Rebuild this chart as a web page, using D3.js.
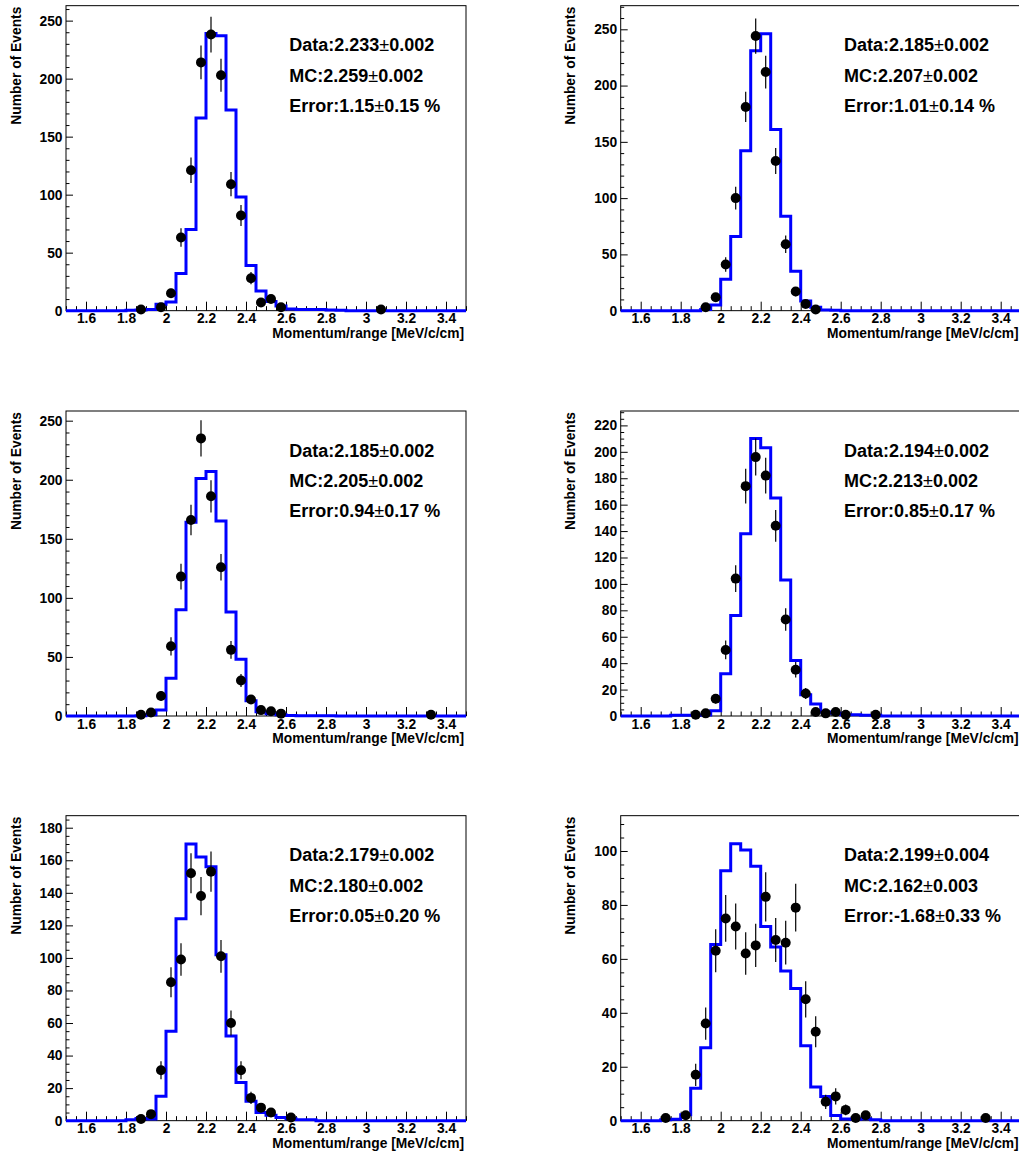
<!DOCTYPE html>
<html>
<head>
<meta charset="utf-8">
<script src="https://cdn.jsdelivr.net/npm/d3@7"></script>
<style>
  html, body { margin: 0; padding: 0; background: #fff; }
  svg { display: block; }
  text { font-family: "Liberation Sans", Arial, Helvetica, sans-serif; font-weight: bold; fill: #000; }
</style>
</head>
<body>
<svg id="chart" width="1019" height="1156"></svg>
<script>
// Momentum/range distributions: data (points with sqrt(N) errors) vs MC (blue step histogram)
// 40 bins of width 0.05 from 1.5 to 3.5 MeV/c/cm
const binStart = 1.5;
const binWidth = 0.05;
const xDomain = [1.5, 3.5];
const xTickValues = [1.6, 1.8, 2.0, 2.2, 2.4, 2.6, 2.8, 3.0, 3.2, 3.4];
const xTickLabels = ["1.6", "1.8", "2", "2.2", "2.4", "2.6", "2.8", "3", "3.2", "3.4"];
const xTitle = "Momentum/range [MeV/c/cm]";
const yTitle = "Number of Events";

const mc1 = [0,0,0,0,0,0,0.3,0.5,1,5.5, 7.5,32,70,166,239,237,173,98,39,17, 8,4,1.5,1,1,1,0.5,0.3,0,0, 0,0,0,0,0,0,0,0,0,0];
const data1 = [0,0,0,0,0,0,0,1,0,3, 15,63,121,214,238,203,109,82,28,7, 10,3,0,0,0,0,0,0,0,0, 0,1,0,0,0,0,0,0,0,0];

const mc2 = [0,0,0,0,0,0,0,0,1,5, 28,66,142,231,246,161,84,35,8.5,3, 0.5,0.3,0,0,0,0,0,0,0,0, 0,0,0,0,0,0,0,0,0,0];
const data2 = [0,0,0,0,0,0,0,0,3,12, 41,100,181,244,212,133,59,17,6,1, 0,0,0,0,0,0,0,0,0,0, 0,0,0,0,0,0,0,0,0,0];

const mc3 = [0,0,0,0,0,0,0,0.3,1,5, 32,90,164,201,207,165,88,48,13,3.5, 2,1,0.5,0.3,0.3,0.3,0.3,0,0,0, 0,0,0,0,0,0,0,0,0,0];
const data3 = [0,0,0,0,0,0,0,1,3,17, 59,118,166,235,186,126,56,30,14,5, 4,2,0,0,0,0,0,0,0,0, 0,0,0,0,0,0,1,0,0,0];

const mc4 = [0,0,0,0,0,0.5,0.5,0.5,0.8,4, 32,76,138,210,203,165,103,42,16,9, 3,2,1,1,0.5,0.5,0,0,0,0, 0,0,0,0,0,0,0,0,0,0];
const data4 = [0,0,0,0,0,0,0,1,2,13, 50,104,174,196,182,144,73,35,17,3, 2,3,1,0,0,1,0,0,0,0, 0,0,0,0,0,0,0,0,0,0];

const mc5 = [0,0,0,0,0,0,0.5,1.4,1,15, 55,124,170,162,156,102,52,23.5,12,5, 3.3,2,1.2,0.5,0.5,0,0,0,0,0, 0,0,0,0,0,0,0,0,0,0];
const data5 = [0,0,0,0,0,0,0,1,4,31, 85,99,152,138,153,101,60,31,14,8, 5,0,2,0,0,0,0,0,0,0, 0,0,0,0,0,0,0,0,0,0];

const mc6 = [0,0,0,0,0.3,0.5,2.2,12,27,65.3, 92.7,102.7,100.4,94.3,72,64.4,55.5,49,27.8,12.5, 9,1.9,0.6,0.5,0.7,0.3,0,0,0,0, 0,0,0,0,0,0,0,0,0,0];
const data6 = [0,0,0,0,1,0,2,17,36,63, 75,72,62,65,83,67,66,79,45,33, 7,9,4,1,2,0,0,0,0,0, 0,0,0,0,0,0,1,0,0,0];

const mcSeries = [mc1, mc2, mc3, mc4, mc5, mc6];
const dataSeries = [data1, data2, data3, data4, data5, data6];

// y-axis range and tick steps for each pad
const yMax = [262.9, 271.0, 258.2, 230.9, 187.4, 113.1];
const yMajorStep = [50, 50, 50, 20, 20, 20];
const yMinorStep = [10, 10, 10, 5, 5, 5];

// fitted means and their relative difference
const statsData = ["2.233", "2.185", "2.185", "2.194", "2.179", "2.199"];
const statsDataErr = ["0.002", "0.002", "0.002", "0.002", "0.002", "0.004"];
const statsMC = ["2.259", "2.207", "2.205", "2.213", "2.180", "2.162"];
const statsMCErr = ["0.002", "0.002", "0.002", "0.002", "0.002", "0.003"];
const statsDiff = ["1.15", "1.01", "0.94", "0.85", "0.05", "-1.68"];
const statsDiffErr = ["0.15", "0.14", "0.17", "0.17", "0.20", "0.33"];

// ---- layout ----
const colLeft = [66, 620.7];
const rowTop = [5.67, 411, 815.67];
const frameW = 400;
const frameH = 305;

const svg = d3.select("#chart");

mcSeries.forEach((mc, p) => {
  const col = p % 2, row = Math.floor(p / 2);
  const left = colLeft[col], top = rowTop[row];
  const g = svg.append("g").attr("transform", `translate(${left},${top})`);

  const x = d3.scaleLinear().domain(xDomain).range([0, frameW]);
  const y = d3.scaleLinear().domain([0, yMax[p]]).range([frameH, 0]);

  // frame
  g.append("rect").attr("x", 0).attr("y", 0).attr("width", frameW).attr("height", frameH)
    .attr("fill", "none").attr("stroke", "#000").attr("stroke-width", 1);

  // x axis: major labelled ticks and minor ticks, pointing into the frame
  const xMinor = d3.range(0, 41).map(i => binStart + i * binWidth)
    .filter(v => !xTickValues.some(t => Math.abs(t - v) < 1e-6));
  const xAxisMinor = g.append("g").attr("transform", `translate(0,${frameH})`)
    .call(d3.axisBottom(x).tickValues(xMinor).tickSize(-4.5).tickFormat(""));
  const xAxis = g.append("g").attr("transform", `translate(0,${frameH})`)
    .call(d3.axisBottom(x).tickValues(xTickValues).tickSize(-9).tickPadding(3)
      .tickFormat((d, i) => xTickLabels[i]));

  // y axis
  const yMajors = d3.range(0, yMax[p], yMajorStep[p]);
  const yMinors = d3.range(0, yMax[p], yMinorStep[p]).filter(v => v % yMajorStep[p] !== 0);
  const yAxisMinor = g.append("g")
    .call(d3.axisLeft(y).tickValues(yMinors).tickSize(-3.5).tickFormat(""));
  const yAxis = g.append("g")
    .call(d3.axisLeft(y).tickValues(yMajors).tickSize(-7).tickPadding(3.5).tickFormat(d3.format("d")));

  [xAxisMinor, xAxis, yAxisMinor, yAxis].forEach(a => {
    a.select(".domain").remove();
    a.selectAll("line").attr("stroke", "#000").attr("stroke-width", 1);
    a.selectAll("text").style("font-size", "13.8px").attr("fill", "#000");
  });

  // axis titles
  g.append("text").attr("x", frameW - 2).attr("y", frameH + 27)
    .attr("text-anchor", "end").style("font-size", "13.8px").text(xTitle);
  g.append("text").attr("transform", `translate(-45.5,1) rotate(-90)`)
    .attr("text-anchor", "end").style("font-size", "13.8px").text(yTitle);

  // MC histogram outline
  const steps = mc.map((v, i) => [binStart + i * binWidth, v]);
  steps.push([binStart + mc.length * binWidth, mc[mc.length - 1]]);
  const stepLine = d3.line().x(d => x(d[0])).y(d => y(d[1])).curve(d3.curveStepAfter);
  g.append("path").datum(steps).attr("d", stepLine)
    .attr("fill", "none").attr("stroke", "#0000ff").attr("stroke-width", 3)
    .attr("stroke-linejoin", "miter");

  // data points with Poisson errors (empty bins not drawn)
  const pts = dataSeries[p].map((v, i) => ({ c: binStart + (i + 0.5) * binWidth, v }))
    .filter(d => d.v > 0);
  g.append("g").selectAll("line").data(pts).join("line")
    .attr("x1", d => x(d.c)).attr("x2", d => x(d.c))
    .attr("y1", d => y(d.v + Math.sqrt(d.v))).attr("y2", d => y(Math.max(0, d.v - Math.sqrt(d.v))))
    .attr("stroke", "#000").attr("stroke-width", 1.2);
  g.append("g").selectAll("circle").data(pts).join("circle")
    .attr("cx", d => x(d.c)).attr("cy", d => y(d.v)).attr("r", 5)
    .attr("fill", "#000");

  // statistics text
  const lines = [
    ["Data:" + statsData[p], statsDataErr[p], ""],
    ["MC:" + statsMC[p], statsMCErr[p], ""],
    ["Error:" + statsDiff[p], statsDiffErr[p], " %"]
  ];
  const baselines = [45.5, 76, 106.3];
  lines.forEach((l, k) => {
    const t = g.append("text").attr("x", 223.3).attr("y", baselines[k]).style("font-size", "18px");
    t.append("tspan").text(l[0]);
    t.append("tspan").style("font-weight", "normal").text("±");
    t.append("tspan").text(l[1] + l[2]);
  });
});
</script>
</body>
</html>
